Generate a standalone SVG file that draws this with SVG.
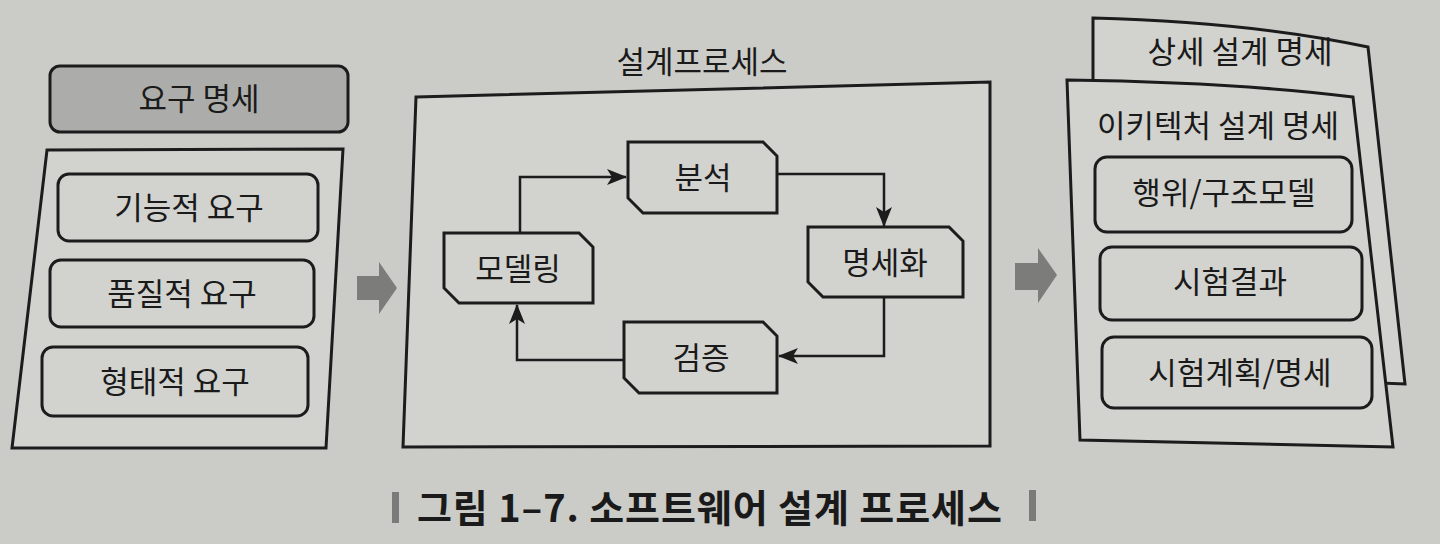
<svg xmlns="http://www.w3.org/2000/svg" width="1440" height="544" viewBox="0 0 1440 544">
<defs>
<style>
.bg{fill:#cbccc8}
.box{fill:#d2d3cf;stroke:#1c1c1c;stroke-width:3}
.hdr{fill:#acadaa;stroke:#1c1c1c;stroke-width:3}
.t{font-family:"Noto Sans CJK KR","Noto Sans",sans-serif;font-size:31px;fill:#1a1a1a;text-anchor:middle}
.cap{font-family:"Noto Sans CJK KR","Noto Sans",sans-serif;font-size:38px;font-weight:600;fill:#1a1a1a;letter-spacing:0.9px}
.conn{fill:none;stroke:#1c1c1c;stroke-width:2.5}
.big{fill:#7c7c7a}
.bar{fill:#7a7a78}
</style>
<marker id="ah" viewBox="0 0 20 16" refX="19" refY="8" markerWidth="20" markerHeight="16" markerUnits="userSpaceOnUse" orient="auto">
<path d="M0,0 L20,8 L0,16 L5,8 Z" fill="#1c1c1c"/>
</marker>
</defs>
<rect class="bg" x="0" y="0" width="1440" height="544"/>

<g id="req-header">
<rect class="hdr" x="50" y="66" width="298" height="66" rx="10"/>
<text class="t" x="199" y="110">요구 명세</text>
</g>
<g id="req-group">
<polygon class="box" points="47,150 343,149 326,448 12,448"/>
</g>
<g id="req-func">
<rect class="box" x="58" y="174" width="260" height="67" rx="11"/>
<text class="t" x="189" y="219">기능적 요구</text>
</g>
<g id="req-quality">
<rect class="box" x="50" y="260" width="264" height="67" rx="11"/>
<text class="t" x="182" y="305">품질적 요구</text>
</g>
<g id="req-form">
<rect class="box" x="42" y="347" width="266" height="69" rx="11"/>
<text class="t" x="175" y="393">형태적 요구</text>
</g>

<g id="arrow-big-1">
<polygon class="big" points="357,276 379,276 379,262 397,288 379,314 379,300 357,300"/>
</g>

<g id="process">
<text class="t" x="702" y="73">설계프로세스</text>
<polygon class="box" points="416,97 990,82 990,446 403,447"/>
</g>
<g id="n-analysis">
<polygon class="box" points="628,142 763,142 777,156 777,213 643,213 628,198"/>
<text class="t" x="703" y="189">분석</text>
</g>
<g id="n-modeling">
<polygon class="box" points="444,233 579,233 593,247 593,303 459,303 444,288"/>
<text class="t" x="518" y="280">모델링</text>
</g>
<g id="n-spec">
<polygon class="box" points="808,227 949,227 963,241 963,297 823,297 808,282"/>
<text class="t" x="885" y="274">명세화</text>
</g>
<g id="n-verify">
<polygon class="box" points="624,322 763,322 777,336 777,393 639,393 624,378"/>
<text class="t" x="701" y="369">검증</text>
</g>

<g id="connectors">
<path class="conn" d="M520,233 V177 H626" marker-end="url(#ah)"/>
<path class="conn" d="M777,174 H884 V226" marker-end="url(#ah)"/>
<path class="conn" d="M884,297 V356 H779" marker-end="url(#ah)"/>
<path class="conn" d="M624,360 H517 V305" marker-end="url(#ah)"/>
</g>

<g id="arrow-big-2">
<polygon class="big" points="1015,263 1038,263 1038,248 1057,275 1038,303 1038,290 1015,290"/>
</g>

<g id="detail-spec">
<path class="box" d="M1093,18 Q1250,22 1368,47 L1405,384 L1093,372 Z"/>
<text class="t" x="1240" y="63">상세 설계 명세</text>
</g>
<g id="arch-spec">
<path class="box" d="M1067,80 Q1230,82 1353,97 L1393,447 L1080,440 Z"/>
<text class="t" x="1218" y="137">이키텍처 설계 명세</text>
</g>
<g id="r-model">
<rect class="box" x="1095" y="157" width="257" height="75" rx="12"/>
<text class="t" x="1224" y="204">행위/구조모델</text>
</g>
<g id="r-result">
<rect class="box" x="1100" y="247" width="262" height="73" rx="12"/>
<text class="t" x="1230" y="293">시험결과</text>
</g>
<g id="r-plan">
<rect class="box" x="1102" y="337" width="270" height="71" rx="12"/>
<text class="t" x="1240" y="384">시험계획/명세</text>
</g>

<g id="caption">
<rect class="bar" x="392" y="492" width="7" height="31"/>
<text class="cap" x="417" y="522">그림 1–7. 소프트웨어 설계 프로세스</text>
<rect class="bar" x="1029" y="490" width="7" height="31"/>
</g>
</svg>
